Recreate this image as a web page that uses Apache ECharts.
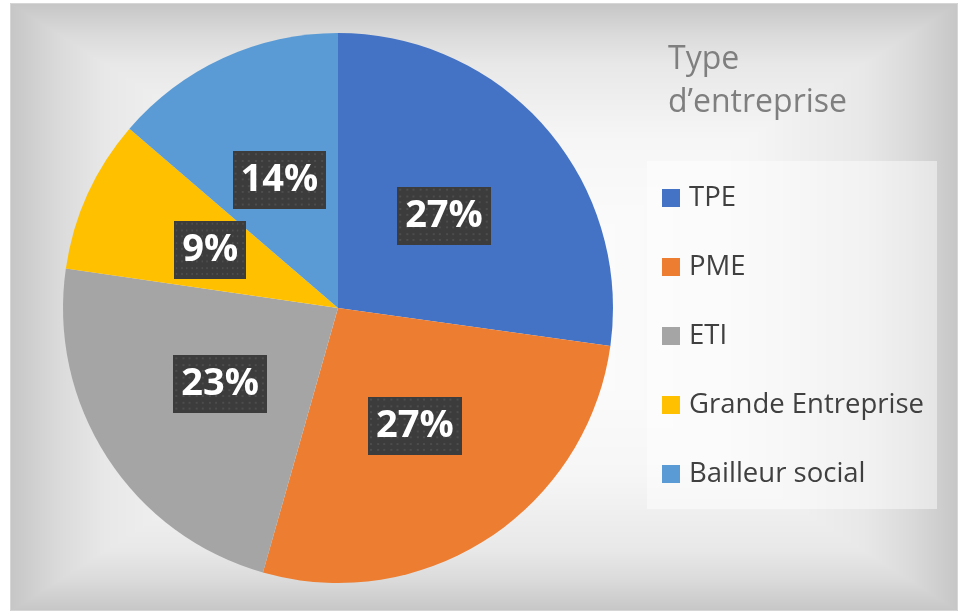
<!DOCTYPE html>
<html>
<head>
<meta charset="utf-8">
<script src="https://cdn.jsdelivr.net/npm/echarts@6/dist/echarts.min.js"></script>
<style>
  html, body { margin: 0; padding: 0; background: #fff; }
  #chart { width: 958px; height: 611px; }
</style>
</head>
<body>
<div id="chart"></div>
<script>
const categories = ['TPE', 'PME', 'ETI', 'Grande Entreprise', 'Bailleur social']
const shares = [27.2, 27.2, 22.9, 9.0, 13.7]
const colors = ['#4472c4', '#ed7d31', '#a5a5a5', '#ffc000', '#5b9bd5']
const legendTitle = 'Type\nd\u2019entreprise'

// rectangular gradient for the chart area, like the office style
function makeBackground(w, h) {
  const c = document.createElement('canvas')
  c.width = w
  c.height = h
  const ctx = c.getContext('2d')
  const img = ctx.createImageData(w, h)
  const stops = [[0, 255], [0.55, 246], [0.8, 232], [0.9, 218], [1, 198]]
  for (let y = 0; y < h; y++) {
    for (let x = 0; x < w; x++) {
      const t = Math.max(Math.abs(x - w / 2) / (w / 2), Math.abs(y - h / 2) / (h / 2))
      let v = 198
      for (let i = 1; i < stops.length; i++) {
        if (t <= stops[i][0]) {
          const a = stops[i - 1], b = stops[i]
          v = a[1] + (b[1] - a[1]) * (t - a[0]) / (b[0] - a[0])
          break
        }
      }
      const k = (y * w + x) * 4
      img.data[k] = img.data[k + 1] = img.data[k + 2] = v
      img.data[k + 3] = 255
    }
  }
  ctx.putImageData(img, 0, 0)
  return c
}

// dark dotted fill for the data labels
function makeDots(w, h) {
  const c = document.createElement('canvas')
  c.width = w
  c.height = h
  const ctx = c.getContext('2d')
  ctx.fillStyle = '#3c3c3c'
  ctx.fillRect(0, 0, w, h)
  ctx.fillStyle = '#4d4d4d'
  for (let y = 2; y < h; y += 6.5) {
    for (let x = 2; x < w; x += 6.5) ctx.fillRect(Math.round(x), Math.round(y), 2, 2)
  }
  return c
}

const chart = echarts.init(document.getElementById('chart'))

chart.setOption({
  backgroundColor: '#fff',
  color: colors,
  animation: false,
  graphic: [
    {
      type: 'image', z: -10, silent: true,
      style: { image: makeBackground(948, 608), x: 10, y: 3, width: 948, height: 608 }
    },
    {
      type: 'rect', z: -9, silent: true,
      shape: { x: 10.5, y: 3.5, width: 947, height: 607 },
      style: { fill: null, stroke: '#d6d6d6', lineWidth: 1 }
    },
    {
      type: 'rect', z: 1, silent: true,
      shape: { x: 647, y: 161, width: 290, height: 348 },
      style: { fill: 'rgba(255,255,255,0.45)' }
    }
  ],
  title: {
    text: legendTitle,
    left: 668,
    top: 38,
    padding: 0,
    textStyle: {
      fontFamily: 'Open Sans',
      fontSize: 32,
      fontWeight: 'normal',
      lineHeight: 43,
      color: '#7f7f7f'
    }
  },
  legend: {
    orient: 'vertical',
    left: 662,
    top: 183,
    padding: 0,
    itemWidth: 18,
    itemHeight: 18,
    itemGap: 39,
    icon: 'rect',
    data: categories,
    textStyle: {
      fontFamily: 'Open Sans',
      fontSize: 27.5,
      lineHeight: 30,
      color: '#404040',
      padding: [0, 0, 0, 4]
    }
  },
  series: [
    {
      type: 'pie',
      center: [338, 308],
      radius: 275,
      startAngle: 90,
      clockwise: true,
      label: {
        position: 'inside',
        formatter: p => Math.round(p.percent) + '%',
        fontFamily: 'Open Sans',
        fontWeight: 'bold',
        fontSize: 38,
        lineHeight: 42,
        color: '#fff',
        padding: [8, 8],
        backgroundColor: { image: makeDots(92, 60) },
        shadowColor: 'rgba(0,0,0,0.35)',
        shadowBlur: 4,
        shadowOffsetX: 2,
        shadowOffsetY: 2
      },
      labelLine: { show: false },
      itemStyle: { borderWidth: 0 },
      emphasis: { disabled: true },
      data: categories.map((name, i) => ({ name, value: shares[i] }))
    }
  ]
})
</script>
</body>
</html>
